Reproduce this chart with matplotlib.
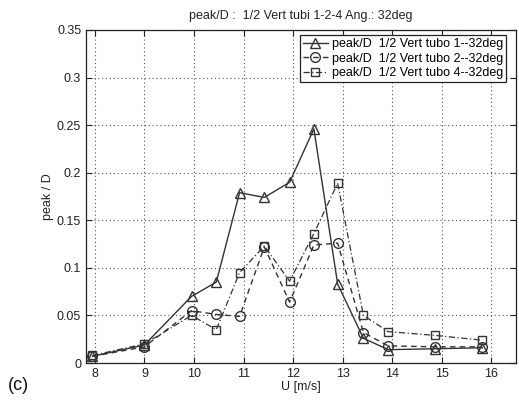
import matplotlib
matplotlib.use("Agg")
import matplotlib.pyplot as plt
import numpy as np

plt.rcParams['font.family'] = ['Liberation Sans', 'DejaVu Sans']

# velocita' del vento
u = [7.95, 9.0, 9.95, 10.45, 10.92, 11.42, 11.93, 12.42, 12.9, 13.42, 13.92, 14.87, 15.82]

# peak/D per i tre tubi
tubo1 = [0.007, 0.019, 0.070, 0.085, 0.179, 0.174, 0.190, 0.246, 0.083, 0.026, 0.014, 0.015, 0.016]
tubo2 = [0.007, 0.017, 0.055, 0.051, 0.049, 0.122, 0.064, 0.124, 0.126, 0.032, 0.018, 0.017, 0.017]
tubo4 = [0.008, 0.020, 0.050, 0.035, 0.095, 0.123, 0.086, 0.136, 0.189, 0.050, 0.033, 0.029, 0.024]

etichette = ["peak/D  1/2 Vert tubo 1--32deg",
             "peak/D  1/2 Vert tubo 2--32deg",
             "peak/D  1/2 Vert tubo 4--32deg"]

col = "#333333"

fig = plt.figure(figsize=(5.19, 4.0), dpi=100)
ax = fig.add_axes([86/519, 1-363/400, 430/519, 333/400])

ax.plot(u, tubo1, color=col, linestyle="-", linewidth=1.0, marker="^",
        markersize=7.5, markerfacecolor="none", markeredgecolor=col, label=etichette[0])
ax.plot(u, tubo2, color=col, linestyle=(0, (4, 3)), linewidth=1.0, marker="o",
        markersize=7, markerfacecolor="none", markeredgecolor=col, label=etichette[1])
ax.plot(u, tubo4, color=col, linestyle=(0, (5, 2, 1, 2)), linewidth=0.9, marker="s",
        markersize=5.5, markerfacecolor="none", markeredgecolor=col, label=etichette[2])

ax.set_xlim(7.82, 16.5)
ax.set_ylim(0, 0.35)
ax.set_xticks(np.arange(8, 17, 1))
ax.set_yticks(np.arange(0, 0.351, 0.05))
ax.set_yticklabels(["0", "0.05", "0.1", "0.15", "0.2", "0.25", "0.3", "0.35"])
ax.tick_params(direction="in", top=True, right=True, labelsize=9, colors="#222222",
               length=4, width=0.8)
ax.grid(True, linestyle=(0, (1, 2.5)), color="#555555", linewidth=0.8)
for s in ax.spines.values():
    s.set_color("#222222")
    s.set_linewidth(0.9)

ax.set_xlabel("U [m/s]", fontsize=9, color="#222222", labelpad=1)
ax.set_ylabel("peak / D", fontsize=9, color="#222222", labelpad=2)
ax.set_title("peak/D :  1/2 Vert tubi 1-2-4 Ang.: 32deg", fontsize=9, color="#222222", pad=8)

leg = ax.legend(loc="upper right", bbox_to_anchor=(0.977, 0.985), fontsize=9,
                fancybox=False, edgecolor="#222222", framealpha=1,
                handlelength=2.0, handletextpad=0.3, borderpad=0.25,
                labelspacing=0.2, borderaxespad=0)
leg.get_frame().set_linewidth(0.9)

fig.text(8/519, 1-386/400, "(c)", fontsize=13, color="#111111", va="center", ha="left")

fig.savefig("out.png", dpi=100)
